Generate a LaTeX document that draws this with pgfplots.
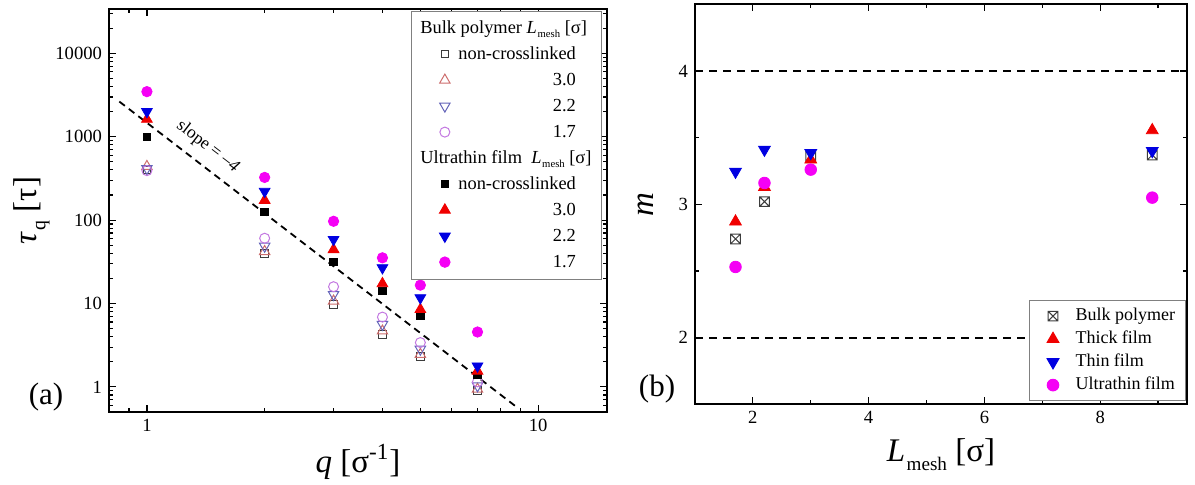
\documentclass[border=0pt]{standalone}
\usepackage{pgfplots}
\pgfplotsset{compat=1.18}
\usepackage{graphicx}
\usepackage{fontspec}
\setmainfont{Liberation Serif}
\usepackage{calc}
\definecolor{oRed}{RGB}{205,110,110}
\definecolor{oBlue}{RGB}{100,100,185}
\definecolor{oVio}{RGB}{195,120,225}
\definecolor{oBlk}{RGB}{60,60,60}
\definecolor{fRed}{RGB}{240,0,0}
\definecolor{fBlue}{RGB}{0,0,225}
\definecolor{fMag}{RGB}{245,0,245}
\pgfdeclareplotmark{sqx}{%
  \pgfpathrectangle{\pgfpoint{-\pgfplotmarksize}{-\pgfplotmarksize}}{\pgfpoint{2\pgfplotmarksize}{2\pgfplotmarksize}}%
  \pgfpathmoveto{\pgfpoint{-\pgfplotmarksize}{-\pgfplotmarksize}}%
  \pgfpathlineto{\pgfpoint{\pgfplotmarksize}{\pgfplotmarksize}}%
  \pgfpathmoveto{\pgfpoint{-\pgfplotmarksize}{\pgfplotmarksize}}%
  \pgfpathlineto{\pgfpoint{\pgfplotmarksize}{-\pgfplotmarksize}}%
  \pgfusepathqstroke}
\newcommand{\Lmesh}{\textit{L}\kern0.04em\raisebox{-0.55ex}{\scalebox{0.58}{mesh}}}
\pgfplotsset{
  myax/.style={
    scale only axis,
    axis line style={line width=0.8pt},
    every tick/.style={line width=0.6pt, black},
    tick align=inside,
    major tick length=3.5pt, minor tick length=2pt,
    /pgf/number format/assume math mode=true,
    tick label style={font=\fontsize{9.3}{11}\selectfont},
    label style={font=\fontsize{16.5}{18}\selectfont},
    legend cell align=left,
  }
}
\begin{document}
\begin{tikzpicture}
\useasboundingbox (0,0) rectangle (597.5pt,-242.5pt);
% ---------------- (a) ----------------
\begin{axis}[myax, at={(54.5pt,-206pt)}, anchor=south west,
  width=249pt, height=201.5pt,
  xmode=log, ymode=log, xmin=0.8, xmax=15, ymin=0.5, ymax=34000,
  xtick={1,10}, xticklabels={1,10},
  minor xtick={0.9,2,3,4,5,6,7,8,9},
  ytick={1,10,100,1000,10000}, yticklabels={1,10,100,1000,10000},
  minor ytick={0.6,0.7,0.8,0.9,2,3,4,5,6,7,8,9,20,30,40,50,60,70,80,90,200,300,400,500,600,700,800,900,2000,3000,4000,5000,6000,7000,8000,9000,20000,30000},
  xlabel={\textit{q} [σ\textsuperscript{-1}]},
  ylabel={\textit{τ}\kern0.03em\raisebox{-0.55ex}{\scalebox{0.6}{q}} [τ]},
  xlabel style={at={(axis description cs:0.5,-0.124)}, anchor=center},
  ylabel style={at={(axis description cs:-0.155,0.5)}, anchor=center},
  legend image code/.code={\path (0pt,0pt) (18pt,0pt); \draw[#1] plot coordinates {(13.5pt,0pt)};},
  legend style={at={(0.99,0.996)}, anchor=north east, draw=gray, line width=0.5pt,
    font=\fontsize{9.2}{11}\selectfont, inner xsep=3pt, inner ysep=2pt,
    nodes={inner sep=2pt, text height=7pt, text depth=2pt}, row sep=0pt},
]
\addlegendimage{empty legend}
\addlegendentry{\hspace*{-19pt}Bulk polymer \Lmesh{} [σ]}
\addplot[only marks, mark=square, mark size=1.9pt, oBlk, line width=0.5pt]
  coordinates {(1,400) (2,40) (3,9.75) (4,4.27) (5,2.3) (7,0.9)};
\addlegendentry{non-crosslinked}
\addplot[only marks, mark=triangle, mark size=3pt, oRed, line width=0.5pt]
  coordinates {(1,440) (2,42) (3,10.7) (4,4.68) (5,2.46) (7,0.94)};
\addlegendentry{\makebox[\widthof{non-crosslinked}][r]{3.0}}
\addplot[only marks, mark=triangle, mark options={rotate=180}, mark size=3pt, oBlue, line width=0.5pt]
  coordinates {(1,415) (2,48.6) (3,12.8) (4,5.6) (5,2.83) (7,1.03)};
\addlegendentry{\makebox[\widthof{non-crosslinked}][r]{2.2}}
\addplot[only marks, mark=o, mark size=2.5pt, oVio, line width=0.5pt]
  coordinates {(1,392) (2,60.6) (3,15.9) (4,6.87) (5,3.4) (7,1.15)};
\addlegendentry{\makebox[\widthof{non-crosslinked}][r]{1.7}}
\addlegendimage{empty legend}
\addlegendentry{\hspace*{-19pt}Ultrathin film\ \ \Lmesh{} [σ]}
\addplot[only marks, mark=square*, mark size=1.9pt, black]
  coordinates {(1,1000) (2,126) (3,31.6) (4,14.1) (5,7.07) (7,1.39)};
\addlegendentry{non-crosslinked}
\addplot[only marks, mark=triangle*, mark size=3.1pt, fRed]
  coordinates {(1,1620) (2,173) (3,44.4) (4,17.3) (5,8.5) (7,1.55)};
\addlegendentry{\makebox[\widthof{non-crosslinked}][r]{3.0}}
\addplot[only marks, mark=triangle*, mark options={rotate=180}, mark size=3.1pt, fBlue]
  coordinates {(1,2000) (2,221) (3,58.5) (4,26.8) (5,11.7) (7,1.78)};
\addlegendentry{\makebox[\widthof{non-crosslinked}][r]{2.2}}
\addplot[only marks, mark=*, mark size=2.6pt, fMag]
  coordinates {(1,3470) (2,325) (3,96.8) (4,35.3) (5,16.6) (7,4.55)};
\addlegendentry{\makebox[\widthof{non-crosslinked}][r]{1.7}}
\addplot[black, line width=0.9pt, dash pattern=on 3.5pt off 2.5pt, forget plot]
  coordinates {(0.85,2640) (8.73,0.593)};
\node[rotate=-37.5, font=\fontsize{8.8}{10}\selectfont] at (axis cs:1.43,760) {slope = \textendash\textit{4}};
\end{axis}
\node[font=\fontsize{15.5}{17}\selectfont] at (23pt,-198.5pt) {(a)};
% ---------------- (b) ----------------
\begin{axis}[myax, at={(347.5pt,-202.15pt)}, anchor=south west,
  width=246pt, height=200pt,
  xmin=1, xmax=9.5, ymin=1.5, ymax=4.5,
  xtick={2,4,6,8}, minor xtick={3,5,7,9},
  ytick={2,3,4}, minor ytick={2.5,3.5},
  xlabel={\Lmesh{} [σ]},
  ylabel={\textit{m}},
  xlabel style={at={(axis description cs:0.5,-0.126)}, anchor=center},
  ylabel style={at={(axis description cs:-0.0995,0.5)}, anchor=center},
  legend image code/.code={\path (0pt,0pt) (17.6pt,0pt); \draw[#1] plot coordinates {(8.6pt,0pt)};},
  legend style={at={(0.997,0.008)}, anchor=south east, draw=gray, line width=0.5pt,
    font=\fontsize{9}{11}\selectfont, inner xsep=3pt, inner ysep=2pt,
    nodes={inner sep=1.35pt, inner xsep=2pt, text height=6.8pt, text depth=2pt}, row sep=0pt},
]
\addplot[black, line width=1pt, dash pattern=on 4pt off 3pt, forget plot]
  coordinates {(1,4) (9.5,4)};
\addplot[black, line width=1pt, dash pattern=on 4pt off 3pt, forget plot]
  coordinates {(1,2) (9.5,2)};
\addplot[only marks, mark=sqx, mark size=2.4pt, oBlk, line width=0.5pt]
  coordinates {(1.7,2.74) (2.2,3.02) (3.0,3.36) (8.9,3.37)};
\addlegendentry{Bulk polymer}
\addplot[only marks, mark=triangle*, mark size=3.4pt, fRed]
  coordinates {(1.7,2.87) (2.2,3.13) (3.0,3.335) (8.9,3.555)};
\addlegendentry{Thick film}
\addplot[only marks, mark=triangle*, mark options={rotate=180}, mark size=3.4pt, fBlue]
  coordinates {(1.7,3.245) (2.2,3.41) (3.0,3.385) (8.9,3.40)};
\addlegendentry{Thin film}
\addplot[only marks, mark=*, mark size=2.9pt, fMag]
  coordinates {(1.7,2.53) (2.2,3.16) (3.0,3.26) (8.9,3.05)};
\addlegendentry{Ultrathin film}
\end{axis}
\node[font=\fontsize{15.5}{17}\selectfont] at (328.5pt,-194.5pt) {(b)};
\end{tikzpicture}
\end{document}
